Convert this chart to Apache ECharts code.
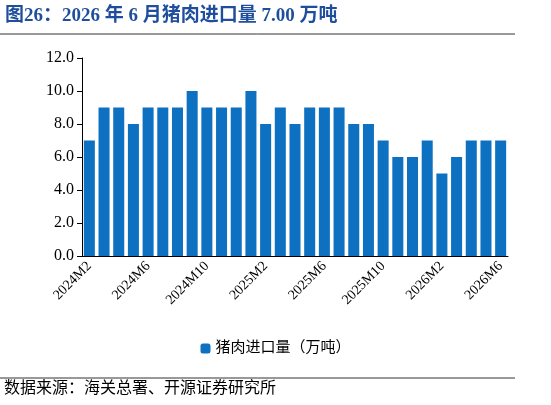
<!DOCTYPE html>
<html><head><meta charset="utf-8">
<script src="https://cdn.jsdelivr.net/npm/echarts@6/dist/echarts.min.js"></script>
<style>body{margin:0;background:#fff}#c{width:551px;height:405px}</style></head>
<body><div id="c"></div>
<script>
const categories=[];
for(let m=2;m<=12;m++)categories.push('2024M'+m);
for(let m=1;m<=12;m++)categories.push('2025M'+m);
for(let m=1;m<=6;m++)categories.push('2026M'+m);
const values=[7,9,9,8,9,9,9,10,9,9,9,10,8,9,8,9,9,9,8,8,7,6,6,7,5,6,7,7,7];
const seriesName='猪肉进口量（万吨）';
const chart=echarts.init(document.getElementById('c'));
const serif='"Times New Roman","Liberation Serif","Noto Sans CJK SC",serif';
chart.setOption({
 animation:false,
 title:{text:'图26：2026 年 6 月猪肉进口量 7.00 万吨',left:0,top:2,textStyle:{color:'#1f4e9c',fontSize:19,fontWeight:'bold',fontFamily:serif}},
 graphic:[
  {type:'line',shape:{x1:0,y1:34,x2:515,y2:34},style:{stroke:'#333',lineWidth:1}},
  {type:'line',shape:{x1:0,y1:378,x2:515,y2:378},style:{stroke:'#333',lineWidth:1}},
  {type:'text',left:4,top:381,style:{text:'数据来源：海关总署、开源证券研究所',fontSize:16,fill:'#000',fontFamily:serif}}
 ],
 grid:{left:82,right:43,top:58,bottom:149},
 legend:{bottom:44,left:'center',itemWidth:10,itemHeight:10,textStyle:{fontSize:15,fontFamily:serif,color:'#000'},data:[seriesName]},
 xAxis:{type:'category',data:categories,axisTick:{show:false},axisLine:{lineStyle:{color:'#000'}},
  axisLabel:{interval:3,rotate:45,fontSize:14,color:'#000',fontFamily:serif}},
 yAxis:{type:'value',min:0,max:12,interval:2,splitLine:{show:false},axisLine:{show:true,lineStyle:{color:'#000'}},axisTick:{show:true},
  axisLabel:{formatter:v=>v.toFixed(1),fontSize:16,color:'#000',fontFamily:serif}},
 series:[{name:seriesName,type:'bar',data:values,barCategoryGap:'25%',itemStyle:{color:'#0e70c0'}}]
});
</script></body></html>
